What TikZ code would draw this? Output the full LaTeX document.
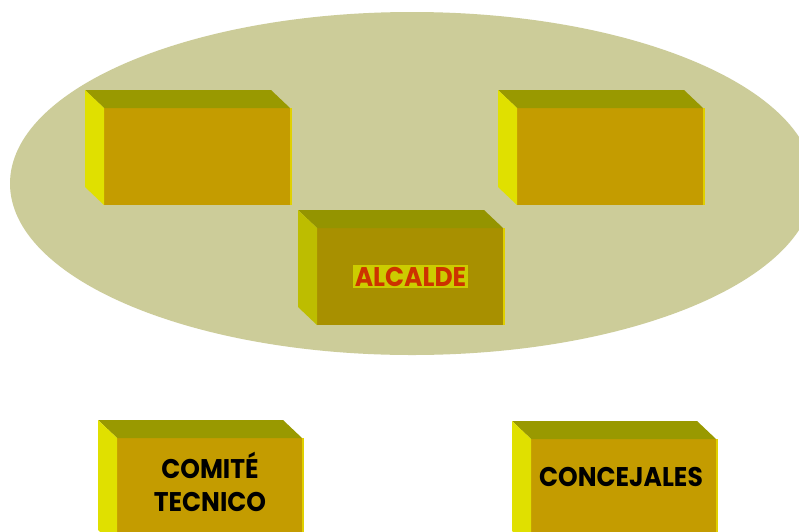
\documentclass[tikz,border=0pt]{standalone}
\usepackage{fontspec}
\setmainfont{Poppins}
\usetikzlibrary{shapes.geometric}
\definecolor{ellc}{HTML}{CCCC99}
\definecolor{topc}{HTML}{999900}
\definecolor{leftc}{HTML}{E0E000}
\definecolor{frontc}{HTML}{C49C00}
\definecolor{edgec}{HTML}{E0D000}
\definecolor{atop}{HTML}{949400}
\definecolor{aleft}{HTML}{BDBD00}
\definecolor{afront}{HTML}{A89000}
\definecolor{hilite}{HTML}{CCCC00}
\definecolor{redtext}{HTML}{CC3300}
\tikzset{
  facebox/.style={inner sep=0pt, outer sep=0pt, anchor=north west},
  labeltext/.style={inner sep=0pt, font=\fontsize{25}{33}\selectfont\bfseries, align=center},
}
\newcommand\tallword[1]{\scalebox{1}[1.08]{#1}}
% #1 name, #2 x, #3 y, #4 width, #5 height, #6 top colour, #7 left colour, #8 front colour
\newcommand\olivebox[8]{%
  \node[facebox, fill=#8, minimum width=#4pt, minimum height=#5pt] (#1) at (#2,#3) {};
  \fill[#6] (#1.north west) -- ([shift={(-19,-18)}]#1.north west)
     -- ([shift={(-19,-18)}]#1.north east) -- (#1.north east) -- cycle;
  \fill[#7] (#1.north west) -- ([shift={(-19,-18)}]#1.north west)
     -- ([shift={(-19,-18)}]#1.south west) -- (#1.south west) -- cycle;
  \fill[edgec] (#1.north east) rectangle ([xshift=2pt]#1.south east);
}
\begin{document}
\begin{tikzpicture}[x=1pt, y=-1pt]
  \useasboundingbox (0,0) rectangle (799,531);
  \clip (0,0) rectangle (799,531);
  \fill[white] (0,0) rectangle (799,531);
  \node[ellipse, fill=ellc, minimum width=804pt, minimum height=343pt, inner sep=0pt] (group) at (412,183.5) {};
  \olivebox{leftbox}{104}{108}{186}{97}{topc}{leftc}{frontc}
  \olivebox{rightbox}{517}{108}{186}{97}{topc}{leftc}{frontc}
  \olivebox{alcalde}{317}{228}{186}{97}{atop}{aleft}{afront}
  \olivebox{comite}{117}{438}{185}{110}{topc}{leftc}{frontc}
  \olivebox{concejales}{531}{439}{185}{110}{topc}{leftc}{frontc}
  \node[labeltext, fill=hilite, text=redtext, inner sep=2pt] (alcaldetext) at (410.5,276.5) {\tallword{ALCALDE}};
  \node[labeltext] (comitetext) at (210,482) {\tallword{COMITÉ}\\\tallword{TECNICO}};
  \node[labeltext] (concejalestext) at (621,477) {\tallword{CONCEJALES}};
\end{tikzpicture}
\end{document}
